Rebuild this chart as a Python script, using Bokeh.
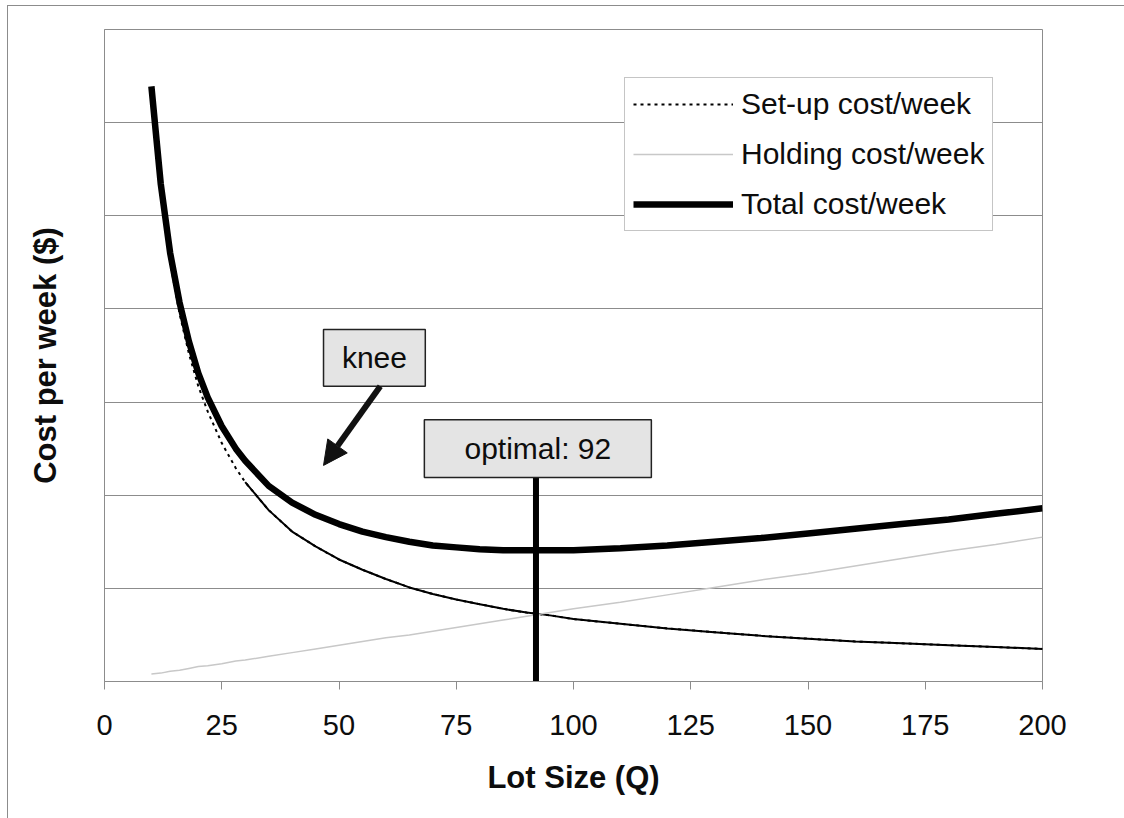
from bokeh.plotting import figure
from bokeh.models import (Range1d, FixedTicker, Legend, LegendItem, Arrow, NormalHead,
                          ColumnDataSource)
from bokeh.core.properties import value
from bokeh.embed import file_html
from bokeh.resources import INLINE

# Lot size (units) and weekly cost curves
lot_size = [10, 12, 14, 16, 18, 20, 22, 25, 28, 30, 35, 40, 45, 50, 55, 60, 65, 70, 75, 80,
            85, 90, 95, 100, 110, 120, 130, 140, 150, 160, 170, 180, 190, 200]
setup_cost = [6.31, 5.25, 4.50, 3.95, 3.52, 3.17, 2.90, 2.56, 2.29, 2.14, 1.84, 1.61, 1.45, 1.31,
              1.20, 1.10, 1.01, 0.94, 0.88, 0.83, 0.78, 0.74, 0.71, 0.67, 0.62, 0.57, 0.53, 0.49,
              0.46, 0.43, 0.41, 0.39, 0.37, 0.35]
holding_cost = [0.08, 0.09, 0.11, 0.12, 0.14, 0.16, 0.17, 0.19, 0.22, 0.23, 0.27, 0.31, 0.35, 0.39,
                0.43, 0.47, 0.50, 0.54, 0.58, 0.62, 0.66, 0.70, 0.74, 0.78, 0.85, 0.93, 1.01, 1.09,
                1.16, 1.24, 1.32, 1.40, 1.47, 1.55]
total_cost = [6.39, 5.34, 4.60, 4.07, 3.65, 3.31, 3.05, 2.74, 2.50, 2.37, 2.10, 1.92, 1.79, 1.69,
              1.61, 1.55, 1.50, 1.46, 1.44, 1.42, 1.41, 1.41, 1.41, 1.41, 1.43, 1.46, 1.50, 1.54,
              1.59, 1.64, 1.69, 1.74, 1.80, 1.86]
x_ticks = [0, 25, 50, 75, 100, 125, 150, 175, 200]
grid_levels = [1, 2, 3, 4, 5, 6]
optimal_q = 92

FONT = "Liberation Sans"
TEXT = "#0d0d0d"
GREY = "#8c8c8c"

p = figure(width=1117, height=813, output_backend="svg", toolbar_location=None,
           x_range=Range1d(0, 200), y_range=Range1d(0, 7),
           min_border_left=96, min_border_right=83, min_border_top=23, min_border_bottom=138)
# chart area border (left and top edges visible in the page)
p.styles = {"margin-left": "7px", "margin-top": "5px",
            "border-left": f"1px solid {GREY}", "border-top": f"1px solid {GREY}"}
p.background_fill_color = "white"
p.border_fill_color = "white"
p.outline_line_color = GREY
p.outline_line_width = 1

# axes
p.xaxis.ticker = FixedTicker(ticks=x_ticks)
p.xaxis.axis_label = "Lot Size (Q)"
p.xaxis.axis_line_color = GREY
p.xaxis.major_tick_line_color = GREY
p.xaxis.major_tick_out = 8
p.xaxis.major_tick_in = 0
p.xaxis.minor_tick_line_color = None
p.xaxis.major_label_text_font = FONT
p.xaxis.major_label_text_font_size = "29px"
p.xaxis.major_label_text_color = TEXT
p.xaxis.major_label_standoff = 25
p.xaxis.axis_label_text_font = FONT
p.xaxis.axis_label_text_font_size = "31px"
p.xaxis.axis_label_text_font_style = "bold"
p.xaxis.axis_label_text_color = TEXT
p.xaxis.axis_label_standoff = 22

p.yaxis.ticker = FixedTicker(ticks=[])
p.yaxis.axis_label = "Cost per week ($)"
p.yaxis.axis_line_color = GREY
p.yaxis.major_tick_line_color = None
p.yaxis.minor_tick_line_color = None
p.yaxis.axis_label_text_font = FONT
p.yaxis.axis_label_text_font_size = "31px"
p.yaxis.axis_label_text_font_style = "bold"
p.yaxis.axis_label_text_color = TEXT
p.yaxis.axis_label_standoff = 42

p.xgrid.grid_line_color = None
p.ygrid.ticker = FixedTicker(ticks=grid_levels)
p.ygrid.grid_line_color = GREY
p.ygrid.grid_line_width = 1

src = ColumnDataSource(dict(q=lot_size, setup=setup_cost, holding=holding_cost, total=total_cost))

r_setup = p.line("q", "setup", source=src, line_color="black", line_width=2, line_dash="3 4")
# the flatter part of the set-up curve reads as a continuous thin stroke
flat = [i for i, q in enumerate(lot_size) if q >= 30]
p.line([lot_size[i] for i in flat], [setup_cost[i] for i in flat],
       line_color="black", line_width=2)
r_hold = p.line("q", "holding", source=src, line_color="#c8c8c8", line_width=1.5)
r_total = p.line("q", "total", source=src, line_color="black", line_width=6.5)

# optimal lot size marker
p.segment(x0=[optimal_q], y0=[0], x1=[optimal_q], y1=[2.19], line_color="black", line_width=6)
p.quad(left=[68.2], right=[116.6], bottom=[2.19], top=[2.81], fill_color="#e4e4e4",
       line_color="#222222", line_width=1.5)
p.text(x=[92.4], y=[2.50], text=[f"optimal: {optimal_q}"], text_font=value(FONT),
       text_font_size="30px", text_align="center", text_baseline="middle", text_color=TEXT)

# knee call-out
p.quad(left=[46.7], right=[68.4], bottom=[3.17], top=[3.78], fill_color="#e4e4e4",
       line_color="#222222", line_width=1.5)
p.text(x=[57.55], y=[3.475], text=["knee"], text_font=value(FONT),
       text_font_size="30px", text_align="center", text_baseline="middle", text_color=TEXT)
p.add_layout(Arrow(end=NormalHead(size=24, fill_color="#111111", line_color="#111111"),
                   x_start=58.8, y_start=3.17, x_end=46.7, y_end=2.32,
                   line_width=6, line_color="#111111"))

legend = Legend(items=[LegendItem(label="Set-up cost/week", renderers=[r_setup]),
                       LegendItem(label="Holding cost/week", renderers=[r_hold]),
                       LegendItem(label="Total cost/week", renderers=[r_total])],
                location=(520, 450))
legend.label_text_font = FONT
legend.label_text_font_size = "30px"
legend.label_text_color = TEXT
legend.glyph_width = 100
legend.glyph_height = 36
legend.label_height = 36
legend.spacing = 14
legend.padding = 8
legend.margin = 0
legend.label_standoff = 8
legend.border_line_color = GREY
legend.border_line_width = 1
legend.background_fill_color = "white"
legend.background_fill_alpha = 1
p.add_layout(legend)

open("out.html", "w").write(file_html(p, INLINE))
